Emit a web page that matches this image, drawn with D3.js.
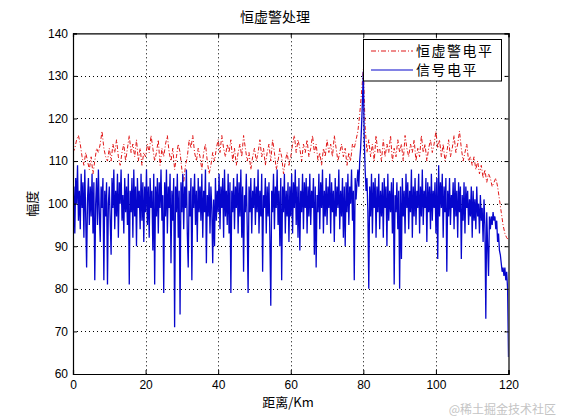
<!DOCTYPE html>
<head>
<meta charset="utf-8">
<script src="https://cdn.jsdelivr.net/npm/d3@7"></script>
<style>
  body { margin: 0; background: #fff; }
  svg { display: block; }
  text { font-family: "Liberation Sans", Arial, sans-serif; fill: #000; }
  .cjk { font-family: "Noto Sans CJK SC", sans-serif; }
</style>
</head>
<body>
<svg width="561" height="420"></svg>
<script>
// sample spacing along the distance axis (km)
var signalStep = 0.25
var thresholdStep = 0.5

// 信号电平 (blue), 0..120 km
var signal = [
  98,104,93,106,100,109,96,103,94,107,99,105,92,108,97,85,101,106,95,104,
  97,107,93,105,82,100,106,95,108,98,91,104,99,106,82,103,97,105,81,100,
  104,96,88,106,99,108,94,103,97,107,92,105,100,108,96,102,93,106,98,104,
  95,107,81,103,98,106,92,108,97,104,90,106,99,103,94,107,96,105,91,104,
  98,108,95,104,92,106,99,103,89,107,81,104,97,106,93,105,99,108,96,102,
  79,105,97,108,93,104,99,107,86,103,96,106,71,104,98,107,92,103,74,105,
  98,107,94,104,99,108,93,85,103,97,106,82,104,99,107,95,103,91,106,98,
  104,96,107,92,103,98,108,86,102,97,105,93,104,99,86,101,90,106,96,103,
  98,107,94,104,99,106,92,108,97,103,95,107,93,105,79,103,98,106,94,104,
  99,107,93,105,97,108,92,104,84,102,98,107,95,79,104,98,106,93,103,99,
  106,95,104,98,108,93,103,97,107,84,102,99,106,93,104,97,105,92,76,103,
  98,107,94,104,99,108,95,103,90,106,82,104,98,107,93,103,97,105,91,104,
  97,107,93,105,99,108,95,104,92,106,89,103,98,107,94,105,99,106,93,104,
  97,107,95,103,99,106,88,104,85,102,98,107,94,105,99,108,93,103,97,106,
  95,104,99,107,93,105,98,103,91,106,97,104,99,108,94,103,97,106,92,104,
  90,105,98,107,95,104,100,108,96,103,82,106,101,105,108,104,110,113,118,124,
  131,115,108,103,106,98,80,104,97,107,93,105,99,106,92,104,98,107,94,103,
  97,105,92,106,99,104,90,107,96,103,98,105,93,106,81,102,98,105,94,103,
  80,104,87,106,97,103,93,107,99,105,94,103,98,108,92,104,97,106,95,103,
  99,107,93,104,97,108,95,103,99,106,91,105,98,104,94,107,96,103,99,105,
  93,106,87,109,97,105,99,107,92,104,98,106,84,103,97,106,95,102,99,105,
  94,106,97,103,92,105,98,104,87,102,96,105,93,104,99,103,95,101,97,104,
  92,103,96,101,94,104,97,100,93,102,96,99,91,101,95,73,98,90,83,97,
  94,97,95,98,96,97,94,96,91,93,89,88,86,84,85,83,85,82,84,80,
  64
]

// 恒虚警电平 (red dash-dot), 0..120 km
var threshold = [
  112,113,115,116,114,111,109,112,110,108,111,107,110,113,112,114,117,113,111,110,
  113,110,114,112,115,111,109,112,114,110,113,116,112,114,111,115,110,113,109,112,
  111,114,112,116,113,110,112,115,109,113,111,114,116,112,110,113,108,111,114,112,
  108,105,109,111,115,113,116,112,110,113,111,108,112,114,110,107,109,112,110,113,
  115,112,116,113,111,114,112,115,110,113,109,112,114,111,116,113,110,112,108,111,
  113,110,112,115,111,113,109,112,114,110,115,112,108,110,113,111,107,110,112,109,
  111,114,116,112,115,113,110,114,112,115,111,113,116,112,114,110,112,109,113,111,
  115,112,114,111,116,113,110,112,114,111,113,109,112,110,114,113,115,117,121,126,
  131.5,118,112,115,111,114,110,116,112,113,110,115,111,114,112,116,110,113,111,115,
  112,114,110,116,113,111,114,112,115,110,113,111,116,112,114,110,113,115,112,114,
  117,113,115,111,114,110,112,115,111,113,116,112,114,117,113,110,112,114,110,111,
  109,111,108,110,107,109,106,108,105,107,106,104,105,106,104,101,98,95,93,92,
  91.5
]

var xTicks = [0, 20, 40, 60, 80, 100, 120]
var yTicks = [60, 70, 80, 90, 100, 110, 120, 130, 140]
var legendNames = ['恒虚警电平', '信号电平']

var pLeft = 73, pRight = 508.5, pTop = 33.3, pBottom = 374

var svg = d3.select('svg')
var x = d3.scaleLinear().domain([0, 120]).range([pLeft, pRight])
var y = d3.scaleLinear().domain([60, 140]).range([pBottom, pTop])

svg.append('defs').append('clipPath').attr('id', 'plot')
  .append('rect').attr('x', pLeft).attr('y', pTop)
  .attr('width', pRight - pLeft).attr('height', pBottom - pTop)

// dotted grid
var grid = svg.append('g').attr('stroke', '#000').attr('stroke-width', 1)
  .attr('stroke-dasharray', '1,3')
grid.selectAll('.gx').data(xTicks.slice(1, -1)).enter().append('line')
  .attr('x1', function (d) { return Math.round(x(d)) + 0.5 })
  .attr('x2', function (d) { return Math.round(x(d)) + 0.5 })
  .attr('y1', pTop).attr('y2', pBottom)
grid.selectAll('.gy').data(yTicks.slice(1, -1)).enter().append('line')
  .attr('y1', function (d) { return Math.round(y(d)) + 0.5 })
  .attr('y2', function (d) { return Math.round(y(d)) + 0.5 })
  .attr('x1', pLeft).attr('x2', pRight)

function lineFor(step) {
  return d3.line()
    .x(function (d, i) { return x(i * step) })
    .y(function (d) { return y(d) })
}

var plot = svg.append('g').attr('clip-path', 'url(#plot)')
plot.append('path').datum(threshold)
  .attr('d', lineFor(thresholdStep)).attr('fill', 'none')
  .attr('stroke', '#e01818').attr('stroke-width', 1)
  .attr('stroke-dasharray', '4,2,1,2')
plot.append('path').datum(signal)
  .attr('d', lineFor(signalStep)).attr('fill', 'none')
  .attr('stroke', '#0606cc').attr('stroke-width', 1.3)

// axes, ticks pointing in (MATLAB box)
var tk = 4
var axB = svg.append('g').attr('transform', 'translate(0,' + pBottom + ')')
  .call(d3.axisBottom(x).tickValues(xTicks).tickSize(-tk).tickPadding(6))
var axT = svg.append('g').attr('transform', 'translate(0,' + pTop + ')')
  .call(d3.axisTop(x).tickValues(xTicks).tickSize(-tk).tickFormat(''))
var axL = svg.append('g').attr('transform', 'translate(' + pLeft + ',0)')
  .call(d3.axisLeft(y).tickValues(yTicks).tickSize(-tk).tickPadding(5))
var axR = svg.append('g').attr('transform', 'translate(' + pRight + ',0)')
  .call(d3.axisRight(y).tickValues(yTicks).tickSize(-tk).tickFormat(''))

;[axB, axT, axL, axR].forEach(function (a) {
  a.select('.domain').attr('stroke', '#000').attr('stroke-width', 1.2)
  a.selectAll('.tick line').attr('stroke', '#000')
  a.selectAll('text').attr('font-size', 12).attr('fill', '#000')
    .style('font-family', '"Liberation Sans", Arial, sans-serif')
})

// titles
svg.append('text').attr('class', 'cjk').attr('x', 275).attr('y', 22)
  .attr('text-anchor', 'middle').attr('font-size', 14).text('恒虚警处理')
svg.append('text').attr('class', 'cjk').attr('x', 288).attr('y', 407)
  .attr('text-anchor', 'middle').attr('font-size', 13).text('距离/Km')
svg.append('text').attr('class', 'cjk')
  .attr('transform', 'translate(37,' + ((pTop + pBottom) / 2) + ') rotate(-90)')
  .attr('text-anchor', 'middle').attr('font-size', 13).text('幅度')

// legend
var lg = svg.append('g')
lg.append('rect').attr('x', 363.5).attr('y', 39.5).attr('width', 138).attr('height', 41.5)
  .attr('fill', '#fff').attr('stroke', '#000').attr('stroke-width', 1)
var legendStyles = [
  { color: '#e01818', dash: '5,2,1,2' },
  { color: '#0606cc', dash: null }
]
legendNames.forEach(function (name, i) {
  var ly = 51 + i * 19
  lg.append('line').attr('x1', 371).attr('x2', 413).attr('y1', ly).attr('y2', ly)
    .attr('stroke', legendStyles[i].color).attr('stroke-width', 1.2)
    .attr('stroke-dasharray', legendStyles[i].dash)
  lg.append('text').attr('class', 'cjk').attr('x', 416).attr('y', ly + 5)
    .attr('font-size', 14).attr('letter-spacing', 1.5).text(name)
})

// watermark
svg.append('text').attr('class', 'cjk').attr('x', 556).attr('y', 414)
  .attr('text-anchor', 'end').attr('font-size', 12)
  .style('fill', '#c4c4c4').text('@稀土掘金技术社区')
</script>
</body>
